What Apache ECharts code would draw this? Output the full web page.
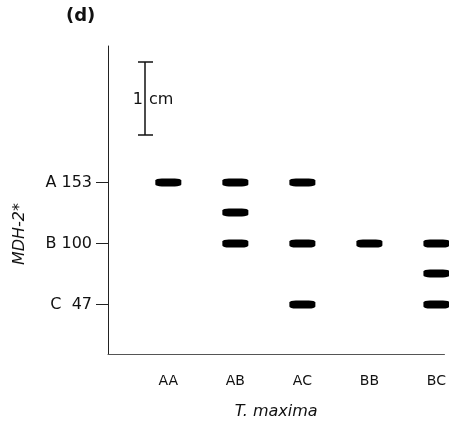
<!DOCTYPE html>
<html>
<head>
<meta charset="utf-8">
<script src="https://cdn.jsdelivr.net/npm/echarts@6/dist/echarts.min.js"></script>
<style>html,body{margin:0;padding:0;background:#fff}#c{width:449px;height:425px}</style>
</head>
<body>
<div id="c"></div>
<script>
// Genotypes (lanes) and band mobilities
var genotypes = ['AA', 'AB', 'AC', 'BB', 'BC'];
var bandsAA = [153];
var bandsAB = [153, 127, 100];
var bandsAC = [153, 100, 47];
var bandsBB = [100];
var bandsBC = [100, 74, 47];
// Allele markers on the y axis
var alleleValues = [153, 100, 47];
var alleleLabels = ['A 153', 'B 100', 'C  47'];

var laneBands = [bandsAA, bandsAB, bandsAC, bandsBB, bandsBC];
var points = [];
laneBands.forEach(function (bands, i) {
  bands.forEach(function (v) { points.push([i, v]); });
});

var FONT = 'DejaVu Sans';
var chart = echarts.init(document.getElementById('c'));
chart.setOption({
  animation: false,
  backgroundColor: '#fff',
  grid: { left: 108, right: 0, top: 46, bottom: 66 },
  xAxis: {
    type: 'value', min: -0.9, max: 4.12,
    axisLine: { show: true, onZero: false, lineStyle: { color: '#555', width: 1 } },
    axisTick: { show: false },
    splitLine: { show: false },
    axisLabel: {
      customValues: [0, 1, 2, 3, 4],
      formatter: function (v) { return genotypes[Math.round(v)]; },
      margin: 20, fontSize: 14, color: '#111', fontFamily: FONT
    },
    name: 'T. maxima', nameLocation: 'middle', nameGap: 50,
    nameTextStyle: { fontSize: 16, fontStyle: 'italic', color: '#111', fontFamily: FONT }
  },
  yAxis: {
    type: 'value', min: 4, max: 271.5,
    axisLine: { show: true, onZero: false, lineStyle: { color: '#222', width: 1 } },
    axisTick: { show: true, customValues: alleleValues, length: 12, lineStyle: { color: '#222' } },
    splitLine: { show: false },
    axisLabel: {
      customValues: alleleValues,
      formatter: function (v) { return alleleLabels[alleleValues.indexOf(v)]; },
      margin: 16, fontSize: 16, color: '#111', fontFamily: FONT
    }
  },
  series: [{
    type: 'scatter',
    data: points,
    symbol: 'roundRect',
    symbolSize: [26, 8],
    itemStyle: { color: '#000', opacity: 1 }
  }],
  graphic: [
    { type: 'text', left: 66, top: 7, style: { text: '(d)', fontSize: 18, fontWeight: 'bold', fill: '#111', fontFamily: FONT } },
    { type: 'text', x: 20, y: 234, rotation: Math.PI / 2, style: { text: 'MDH-2*', fontSize: 16, fontStyle: 'italic', fill: '#111', align: 'center', verticalAlign: 'middle', fontFamily: FONT } },
    { type: 'line', shape: { x1: 145, y1: 62, x2: 145, y2: 135 }, style: { stroke: '#111', lineWidth: 1.5 } },
    { type: 'line', shape: { x1: 138, y1: 62, x2: 153, y2: 62 }, style: { stroke: '#111', lineWidth: 1.5 } },
    { type: 'line', shape: { x1: 138, y1: 135, x2: 153, y2: 135 }, style: { stroke: '#111', lineWidth: 1.5 } },
    { type: 'text', x: 143, y: 100, style: { text: '1', fontSize: 16, fill: '#111', align: 'right', verticalAlign: 'middle', fontFamily: FONT } },
    { type: 'text', x: 149, y: 100, style: { text: 'cm', fontSize: 16, fill: '#111', align: 'left', verticalAlign: 'middle', fontFamily: FONT } }
  ]
});
</script>
</body>
</html>
